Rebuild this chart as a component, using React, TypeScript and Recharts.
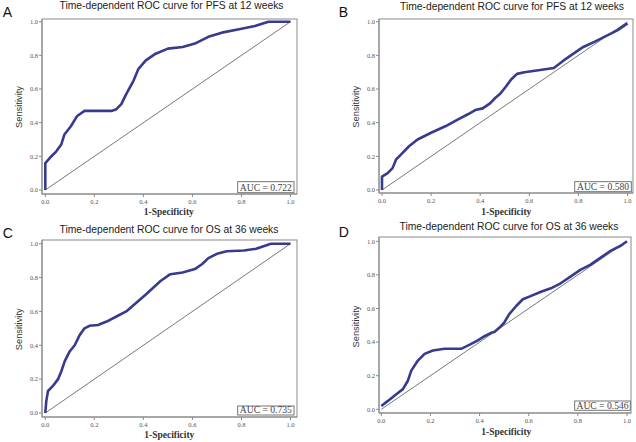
import { LineChart, Line, XAxis, YAxis, ReferenceLine } from "recharts";

// axis ticks shared by every panel
const TICKS = [0, 0.2, 0.4, 0.6, 0.8, 1.0];

// panel A: PFS at 12 weeks
const aFpr = [0, 0, 0.018, 0.045, 0.065, 0.078, 0.105, 0.13, 0.16, 0.19, 0.27, 0.29, 0.31, 0.33, 0.36, 0.38, 0.41, 0.45, 0.5, 0.56, 0.61, 0.665, 0.72, 0.79, 0.855, 0.91, 1.0];
const aTpr = [0, 0.16, 0.19, 0.23, 0.27, 0.33, 0.38, 0.44, 0.47, 0.47, 0.47, 0.48, 0.51, 0.57, 0.65, 0.72, 0.77, 0.81, 0.84, 0.85, 0.87, 0.91, 0.935, 0.955, 0.975, 1.0, 1.0];

// panel B: PFS at 12 weeks
const bFpr = [0, 0, 0.023, 0.043, 0.057, 0.077, 0.11, 0.145, 0.2, 0.26, 0.31, 0.35, 0.38, 0.41, 0.44, 0.46, 0.48, 0.505, 0.525, 0.55, 0.58, 0.63, 0.7, 0.74, 0.78, 0.82, 0.865, 0.92, 0.96, 1.0];
const bTpr = [0, 0.08, 0.1, 0.13, 0.18, 0.21, 0.26, 0.3, 0.34, 0.38, 0.42, 0.45, 0.475, 0.485, 0.515, 0.545, 0.57, 0.615, 0.655, 0.69, 0.7, 0.71, 0.725, 0.77, 0.81, 0.85, 0.88, 0.92, 0.95, 0.99];

// panel C: OS at 36 weeks
const cFpr = [0, 0.004, 0.011, 0.031, 0.052, 0.065, 0.079, 0.1, 0.12, 0.14, 0.16, 0.18, 0.215, 0.25, 0.29, 0.33, 0.37, 0.41, 0.44, 0.47, 0.51, 0.56, 0.61, 0.64, 0.665, 0.7, 0.74, 0.81, 0.86, 0.92, 1.0];
const cTpr = [0, 0.07, 0.13, 0.16, 0.2, 0.245, 0.305, 0.365, 0.4, 0.46, 0.5, 0.515, 0.52, 0.54, 0.57, 0.6, 0.65, 0.7, 0.74, 0.78, 0.82, 0.83, 0.85, 0.88, 0.915, 0.94, 0.955, 0.96, 0.97, 1.0, 1.0];

// panel D: OS at 36 weeks
const dFpr = [0, 0.027, 0.061, 0.088, 0.108, 0.122, 0.149, 0.176, 0.21, 0.257, 0.325, 0.36, 0.393, 0.42, 0.447, 0.46, 0.48, 0.5, 0.52, 0.549, 0.576, 0.61, 0.65, 0.69, 0.73, 0.77, 0.81, 0.85, 0.89, 0.935, 0.976, 1.0];
const dTpr = [0.02, 0.05, 0.09, 0.12, 0.17, 0.23, 0.29, 0.33, 0.35, 0.36, 0.36, 0.385, 0.41, 0.435, 0.455, 0.46, 0.485, 0.515, 0.565, 0.615, 0.655, 0.675, 0.7, 0.72, 0.75, 0.79, 0.83, 0.86, 0.9, 0.945, 0.975, 1.0];

const letters = ["A", "B", "C", "D"];
const titles = [
  "Time-dependent ROC curve for PFS at 12 weeks",
  "Time-dependent ROC curve for PFS at 12 weeks",
  "Time-dependent ROC curve for OS at 36 weeks",
  "Time-dependent ROC curve for OS at 36 weeks",
];
const aucLabels = ["AUC = 0.722", "AUC = 0.580", "AUC = 0.735", "AUC = 0.546"];

const toRows = (fpr: number[], tpr: number[]) => fpr.map((x, i) => ({ fpr: x, tpr: tpr[i] }));
const series = [toRows(aFpr, aTpr), toRows(bFpr, bTpr), toRows(cFpr, cTpr), toRows(dFpr, dTpr)];

// layout of each panel (page pixels)
const panels = [
  { ox: 0, oy: 0, l: 42, t: 19, r: 297, b: 194, px0: 45.3, px1: 290.5, py0: 190, py1: 21.7,
    letter: [2.7, 17.3], title: [171.5, 9], ylab: [19, 107], xlab: [168.8, 215], auc: [237.7, 181.7, 294, 192.7] },
  { ox: 318, oy: 0, l: 379, t: 19, r: 633, b: 193, px0: 382, px1: 627.5, py0: 190, py1: 21.7,
    letter: [338.7, 16.5], title: [512, 10], ylab: [356, 106.7], xlab: [506.3, 215], auc: [574.7, 181.7, 631.3, 191.7] },
  { ox: 0, oy: 221, l: 42, t: 240, r: 297, b: 417, px0: 45.3, px1: 290.5, py0: 413, py1: 243.7,
    letter: [2.7, 237.5], title: [169, 233.4], ylab: [18.7, 329.3], xlab: [169.3, 438], auc: [237.7, 406, 294, 415] },
  { ox: 318, oy: 221, l: 379, t: 237, r: 631, b: 413, px0: 381.3, px1: 627, py0: 409.3, py1: 241.3,
    letter: [338.7, 236.5], title: [509, 230], ylab: [356, 326.5], xlab: [506.3, 435], auc: [574.7, 401, 630.3, 410.3] },
];

const FRAME = "#8a8a8a";
const CURVE = "#363b8e";
const tickStyle = { fontSize: 6.5, fill: "#555", fontFamily: "Liberation Serif, serif" };

function Panel({ idx }: { idx: number }) {
  const p = panels[idx];
  const xs = p.px1 - p.px0;
  const ys = p.py0 - p.py1;
  const xDom = [(p.l - p.px0) / xs, (p.r - p.px0) / xs];
  const yDom = [(p.py0 - p.b) / ys, (p.py0 - p.t) / ys];
  return (
    <LineChart
      width={318}
      height={221}
      data={series[idx]}
      margin={{ top: p.t - p.oy, right: p.ox + 318 - p.r, bottom: 0, left: 0 }}
      style={{ position: "absolute", left: p.ox, top: p.oy }}
    >
      <XAxis
        dataKey="fpr"
        type="number"
        domain={xDom}
        allowDataOverflow
        ticks={TICKS}
        interval={0}
        tickFormatter={(v: number) => v.toFixed(1)}
        tick={tickStyle}
        tickSize={3}
        tickMargin={2}
        stroke={FRAME}
        height={p.oy + 221 - p.b}
      />
      <YAxis
        type="number"
        domain={yDom}
        allowDataOverflow
        ticks={TICKS}
        interval={0}
        tickFormatter={(v: number) => v.toFixed(1)}
        tick={tickStyle}
        tickSize={3}
        tickMargin={1}
        stroke={FRAME}
        width={p.l - p.ox}
      />
      <ReferenceLine segment={[{ x: 0, y: 0 }, { x: 1, y: 1 }]} stroke="#555" strokeWidth={0.8} />
      <Line
        dataKey="tpr"
        type="linear"
        stroke={CURVE}
        strokeWidth={2.6}
        strokeLinejoin="round"
        dot={false}
        activeDot={false}
        isAnimationActive={false}
      />
    </LineChart>
  );
}

export default function App() {
  return (
    <div style={{ position: "absolute", left: 0, top: 0, width: 636, height: 442, background: "#fff", overflow: "hidden" }}>
      {panels.map((_, i) => (
        <Panel key={i} idx={i} />
      ))}
      <svg width={636} height={442} style={{ position: "absolute", left: 0, top: 0, pointerEvents: "none" }}>
        {panels.map((p, i) => (
          <g key={i}>
            <rect x={p.l} y={p.t} width={p.r - p.l} height={p.b - p.t} fill="none" stroke={FRAME} strokeWidth={1} />
            <text x={p.letter[0]} y={p.letter[1]} fontSize={14} fontFamily="Liberation Sans, Arial, sans-serif" fill="#111">
              {letters[i]}
            </text>
            <text x={p.title[0]} y={p.title[1]} textAnchor="middle" fontSize={10.3} fontFamily="Liberation Sans, Arial, sans-serif" fill="#222">
              {titles[i]}
            </text>
            <text
              x={p.ylab[0]}
              y={p.ylab[1]}
              textAnchor="middle"
              dominantBaseline="central"
              transform={`rotate(-90 ${p.ylab[0]} ${p.ylab[1]})`}
              fontSize={9.3}
              fontFamily="Liberation Sans, Arial, sans-serif"
              fill="#333"
            >
              Sensitivity
            </text>
            <text x={p.xlab[0]} y={p.xlab[1]} textAnchor="middle" fontSize={9.5} fontWeight={600} fontFamily="Liberation Serif, serif" fill="#333">
              1-Specificity
            </text>
            <rect x={p.auc[0]} y={p.auc[1]} width={p.auc[2] - p.auc[0]} height={p.auc[3] - p.auc[1]} fill="#fff" stroke="#666" strokeWidth={0.9} />
            <text x={(p.auc[0] + p.auc[2]) / 2} y={p.auc[3] - 1.8} textAnchor="middle" fontSize={9.6} fontFamily="Liberation Serif, serif" fill="#444">
              {aucLabels[i]}
            </text>
          </g>
        ))}
      </svg>
    </div>
  );
}
